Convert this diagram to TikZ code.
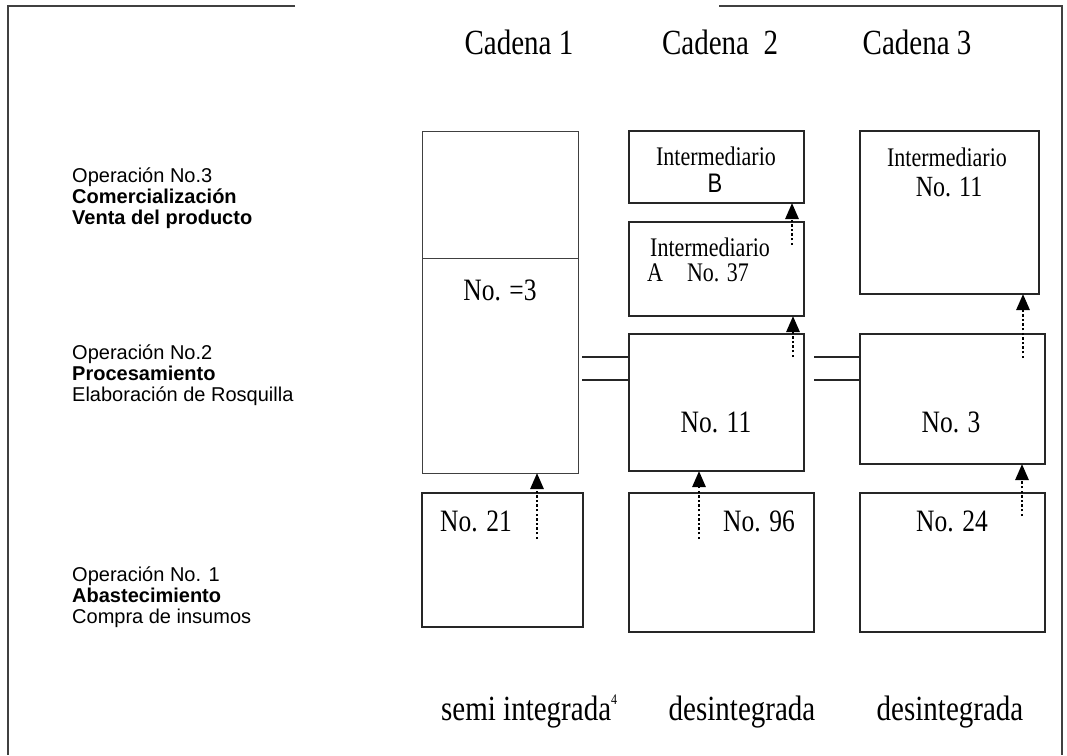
\documentclass[tikz,border=0pt]{standalone}
\usepackage{graphicx}
\usepackage{fontspec}
\setmainfont{Liberation Serif}
\newfontfamily\arialf{Liberation Sans}
\usetikzlibrary{arrows.meta}
\newcommand{\vst}[1]{\scalebox{1}[1.22]{#1}}
\tikzset{
  box/.style={draw=black!85, line width=1.6pt, inner sep=0pt, outer sep=0pt},
  thinbox/.style={draw=black!75, line width=1pt, inner sep=0pt, outer sep=0pt},
  dotarrow/.style={draw=black, line width=2.8pt, dash pattern=on 2.4pt off 2.2pt,
     -{Triangle[length=16pt,width=13pt]}},
  frameline/.style={draw=black!75, line width=2pt},
  link/.style={draw=black!85, line width=1.6pt},
  head/.style={font=\fontsize{29}{33}\selectfont, inner sep=0pt},
  num/.style={font=\fontsize{25.5}{29}\selectfont, inner sep=0pt},
  inter/.style={font=\fontsize{22}{26}\selectfont, inner sep=0pt},
  oplabel/.style={font=\arialf\fontsize{20}{21}\selectfont, align=left, anchor=west, inner sep=0pt},
}
\begin{document}
\begin{tikzpicture}[x=1pt,y=-1pt]
\useasboundingbox[fill=white] (0,0) rectangle (1067,755);

% frame
\coordinate (fa) at (295,6);
\coordinate (fb) at (8,6);
\coordinate (fc) at (8,755);
\coordinate (fd) at (719,6);
\coordinate (fe) at (1062,6);
\coordinate (ff) at (1062,755);
\draw[frameline] (fa) -- (fb) -- (fc);
\draw[frameline] (fd) -- (fe) -- (ff);

% headings
\node[head] (h1) at (519,42) {\vst{Cadena 1}};
\node[head] (h2) at (720,42) {\vst{Cadena~~2}};
\node[head] (h3) at (917,42) {\vst{Cadena 3}};

% left labels
\node[oplabel] (op3) at (72,198) {Operación No.3\\\textbf{Comercialización}\\\textbf{Venta del producto}};
\node[oplabel] (op2) at (72,375) {Operación No.2\\\textbf{Procesamiento}\\Elaboración de Rosquilla};
\node[oplabel] (op1) at (72,597) {Operación No. 1\\\textbf{Abastecimiento}\\Compra de insumos};

% chain 1
\node[thinbox, minimum width=156pt, minimum height=127pt] (c1top) at (500,194.5) {};
\node[thinbox, minimum width=156pt, minimum height=215pt] (c1mid) at (500,365.5) {};
\node[box, minimum width=161pt, minimum height=134pt] (c1bot) at (502.5,560) {};
\node[num] (n1mid) at (500,290) {\vst{No. =3}};
\node[num] (n1bot) at (476,521) {\vst{No. 21}};

% chain 2
\node[box, minimum width=175pt, minimum height=72pt] (c2B) at (716.5,167) {};
\node[box, minimum width=175pt, minimum height=94pt] (c2A) at (716.5,269) {};
\node[box, minimum width=175pt, minimum height=137pt] (c2mid) at (716.5,402.5) {};
\node[box, minimum width=185pt, minimum height=139pt] (c2bot) at (721.5,562.5) {};
\node[inter] (tB1) at (716,156) {\vst{Intermediario}};
\node[inter, font=\arialf\fontsize{22}{26}\selectfont] (tB2) at (715,183) {\vst{B}};
\node[inter, anchor=west] (tA1) at (650,247) {\vst{Intermediario}};
\node[inter, anchor=west] (tA2) at (647,273) {\vst{A\hspace{24pt}No. 37}};
\node[num] (n2mid) at (716,422) {\vst{No. 11}};
\node[num] (n2bot) at (759,521) {\vst{No. 96}};

% chain 3
\node[box, minimum width=179pt, minimum height=163pt] (c3top) at (949.5,212.5) {};
\node[box, minimum width=185pt, minimum height=130pt] (c3mid) at (952.5,399) {};
\node[box, minimum width=185pt, minimum height=139pt] (c3bot) at (952.5,562.5) {};
\node[inter] (t31) at (947,157) {\vst{Intermediario}};
\node[inter, font=\fontsize{24}{28}\selectfont] (t32) at (949,187) {\vst{No. 11}};
\node[num] (n3mid) at (951,422) {\vst{No. 3}};
\node[num] (n3bot) at (952,521) {\vst{No. 24}};

% bottom labels
\node[head, anchor=base west] (b1) at (441,720) {\vst{semi integrada\raisebox{13pt}{\fontsize{12}{14}\selectfont 4}}};
\node[head, anchor=base] (b2) at (742,720) {\vst{desintegrada}};
\node[head, anchor=base] (b3) at (950,720) {\vst{desintegrada}};

% double links
\coordinate (d1a) at (582,357);
\coordinate (d1b) at (582,380);
\coordinate (d2a) at (814,357);
\coordinate (d2b) at (814,380);
\draw[link] (d1a) -- (d1a -| c2mid.west);
\draw[link] (d1b) -- (d1b -| c2mid.west);
\draw[link] (d2a) -- (d2a -| c3mid.west);
\draw[link] (d2b) -- (d2b -| c3mid.west);

% dotted arrows
\coordinate (t1) at (537,539);
\coordinate (t2) at (699,539);
\coordinate (t3) at (793,357);
\coordinate (t4) at (792,245);
\coordinate (t5) at (1022,516);
\coordinate (t6) at (1023,358);
\draw[dotarrow] (t1) -- (t1 |- c1mid.south);
\draw[dotarrow] (t2) -- (t2 |- c2mid.south);
\draw[dotarrow] (t3) -- (t3 |- c2A.south);
\draw[dotarrow] (t4) -- (t4 |- c2B.south);
\draw[dotarrow] (t5) -- (t5 |- c3mid.south);
\draw[dotarrow] (t6) -- (t6 |- c3top.south);
\end{tikzpicture}
\end{document}
